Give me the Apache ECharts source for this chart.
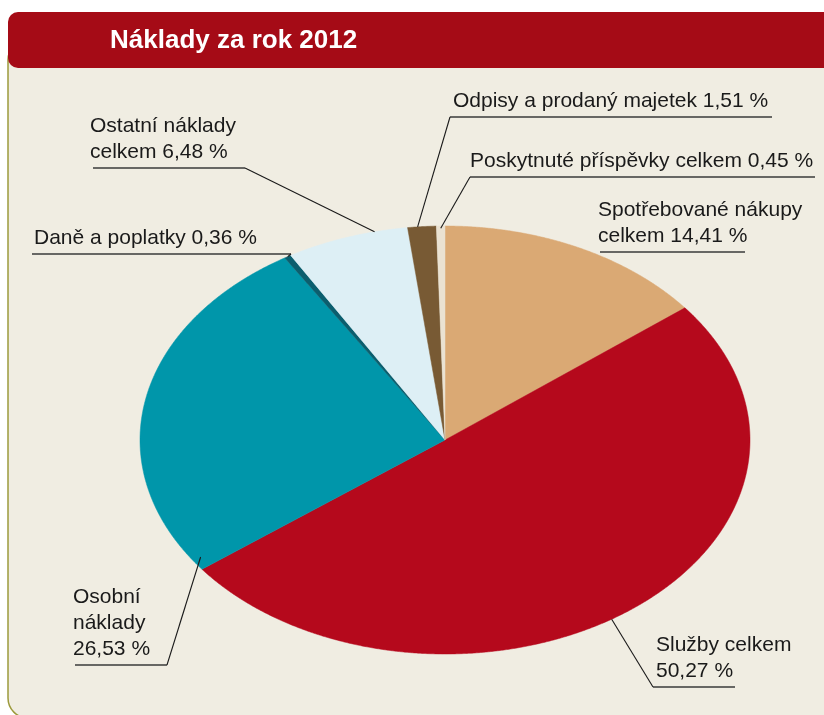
<!DOCTYPE html>
<html>
<head>
<meta charset="utf-8">
<script src="https://cdn.jsdelivr.net/npm/echarts@6/dist/echarts.min.js"></script>
<style>
  html, body { margin: 0; padding: 0; background: #ffffff; }
  #chart { width: 824px; height: 715px; }
</style>
</head>
<body>
<div id="chart"></div>
<script>
// DATA
var nazvy = [
  "Spotřebované nákupy celkem",
  "Služby celkem",
  "Osobní náklady",
  "Daně a poplatky",
  "Ostatní náklady celkem",
  "Odpisy a prodaný majetek",
  "Poskytnuté příspěvky celkem"
];
var podily = [14.41, 50.27, 26.53, 0.36, 6.48, 1.51, 0.45];
var popisky = [
  "Spotřebované nákupy\ncelkem 14,41 %",
  "Služby celkem\n50,27 %",
  "Osobní\nnáklady\n26,53 %",
  "Daně a poplatky 0,36 %",
  "Ostatní náklady\ncelkem 6,48 %",
  "Odpisy a prodaný majetek 1,51 %",
  "Poskytnuté příspěvky celkem 0,45 %"
];
var barvy = ["#DAA974", "#B5091C", "#0096AA", "#0B5E6E", "#DDEFF5", "#785A34", "#EAE2D2"];

// LAYOUT (elipsa a popisky)
var CX = 445, CY = 440, RX = 305, RY = 214;
var stitky = [
  { tx: 598, uy: 252, u: [600, 745], od: null, kotva: null },
  { tx: 656, uy: 687, u: [653, 735], od: 653, kotva: [0.525, 1.0] },
  { tx: 73,  uy: 665, u: [75, 167],  od: 167, kotva: [0.03, 0.97] },
  { tx: 34,  uy: 254, u: [32, 291],  od: 291, kotva: [0.5, 1.0] },
  { tx: 90,  uy: 168, u: [93, 245],  od: 245, kotva: [0.73, 1.0] },
  { tx: 453, uy: 117, u: [450, 772], od: 450, kotva: [0.35, 1.0] },
  { tx: 470, uy: 177, u: [470, 815], od: 470, kotva: [0.5, 0.99] }
];
var PISMO = '"Liberation Sans", Arial, sans-serif';

var soucet = podily.reduce(function (a, b) { return a + b; }, 0);
var zacatky = [];
var acc = 0;
for (var v of podily) { zacatky.push(acc); acc += v; }

function bod(uhel, r) {
  return [CX + RX * r * Math.sin(uhel), CY - RY * r * Math.cos(uhel)];
}

function renderItem(params, api) {
  var i = params.dataIndex;
  var a0 = zacatky[i] / soucet * Math.PI * 2;
  var a1 = (zacatky[i] + api.value(0)) / soucet * Math.PI * 2;
  var pts = [[CX, CY]];
  var n = Math.max(2, Math.ceil((a1 - a0) / (Math.PI / 720)));
  for (var k = 0; k <= n; k++) {
    pts.push(bod(a0 + (a1 - a0) * k / n, 1));
  }
  var s = stitky[i];
  var deti = [{
    type: "polygon",
    z2: 1,
    shape: { points: pts },
    style: { fill: barvy[i], stroke: barvy[i], lineWidth: 0.5 }
  }, {
    type: "text",
    z2: 10,
    style: {
      text: popisky[i],
      x: s.tx, y: s.uy - 3,
      font: "21px " + PISMO,
      lineHeight: 26,
      fill: "#1a1a1a",
      align: "left",
      verticalAlign: "bottom"
    }
  }, {
    type: "line",
    z2: 10,
    shape: { x1: s.u[0], y1: s.uy, x2: s.u[1], y2: s.uy },
    style: { stroke: "#3a3a3a", lineWidth: 1.4 }
  }];
  if (s.kotva) {
    var p = bod(a0 + (a1 - a0) * s.kotva[0], s.kotva[1]);
    deti.push({
      type: "line",
      z2: 10,
      shape: { x1: s.od, y1: s.uy, x2: p[0], y2: p[1] },
      style: { stroke: "#1a1a1a", lineWidth: 1.1 }
    });
  }
  return { type: "group", children: deti };
}

// CHART
var chart = echarts.init(document.getElementById("chart"), null, { renderer: "canvas" });

chart.setOption({
  animation: false,
  backgroundColor: "#ffffff",
  graphic: [
    {
      type: "rect", z: -10,
      shape: { x: 8, y: 40, width: 840, height: 678, r: 20 },
      style: { fill: "#F0EDE2", stroke: "#9C9A3C", lineWidth: 1.5 }
    },
    {
      type: "rect", z: -9,
      shape: { x: 8, y: 12, width: 840, height: 56, r: [10, 0, 0, 10] },
      style: { fill: "#A50B16" }
    },
    {
      type: "text", z: -8,
      style: {
        text: "Náklady za rok 2012",
        x: 110, y: 41,
        font: "bold 26px " + PISMO,
        fill: "#ffffff",
        verticalAlign: "middle"
      }
    }
  ],
  series: [{
    type: "custom",
    name: "Náklady za rok 2012",
    coordinateSystem: "none",
    z: 5,
    renderItem: renderItem,
    data: podily.map(function (v, i) { return { name: nazvy[i], value: [v] }; })
  }]
});
</script>
</body>
</html>
